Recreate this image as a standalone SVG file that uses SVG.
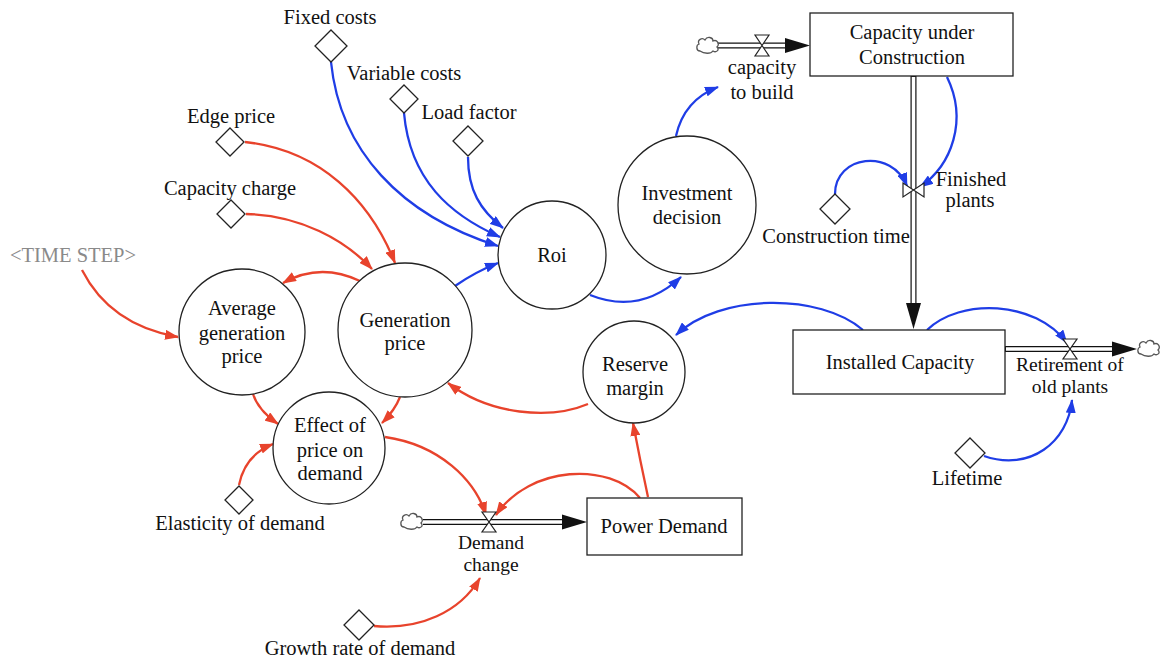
<svg xmlns="http://www.w3.org/2000/svg" width="1161" height="662" viewBox="0 0 1161 662" font-family="'Liberation Serif', Tinos, 'DejaVu Serif', serif">
<style>
text{font-family:'Liberation Serif',Tinos,'Times New Roman','DejaVu Serif',serif;font-size:20.5px;fill:#111;text-anchor:middle}
.gray{fill:#8a8a8a}
.tight{font-size:19.5px}
.node{fill:#fff;stroke:#222;stroke-width:1.3}
.dia{fill:#fff;stroke:#222;stroke-width:1.3}
.red{fill:none;stroke:#e8432c;stroke-width:2.3}
.blue{fill:none;stroke:#1f3de6;stroke-width:2.3}
.pipeO{fill:none;stroke:#111;stroke-width:6}
.pipeI{fill:none;stroke:#fff;stroke-width:3.6}
.valve{fill:#fff;stroke:#222;stroke-width:1.2}
.cloud{fill:#fff;stroke:#555;stroke-width:1.3}
</style>
<defs>
<marker id="ar" viewBox="0 0 14 10" refX="13" refY="5" markerWidth="14" markerHeight="10" markerUnits="userSpaceOnUse" orient="auto"><path d="M0,0 L14,5 L0,10 Z" fill="#e8432c"/></marker>
<marker id="ab" viewBox="0 0 14 10" refX="13" refY="5" markerWidth="14" markerHeight="10" markerUnits="userSpaceOnUse" orient="auto"><path d="M0,0 L14,5 L0,10 Z" fill="#1f3de6"/></marker>
<path id="cl" d="M-8,6 C-12,6 -12,0 -9,-1 C-11,-5 -6,-8 -3,-5 C-1,-9 5,-8 5,-4 C9,-6 12,-1 9,2 C12,5 8,8 5,6 C3,9 -4,9 -8,6 Z"/>
</defs>

<g id="connectors">
<g id="flow-capacity-to-build">
<line class="pipeO" x1="718" y1="45.5" x2="788" y2="45.5"/><line class="pipeI" x1="716" y1="45.5" x2="790" y2="45.5"/>
<path d="M785,38 L810,45.5 L785,53 Z" fill="#111"/>
</g>
<g id="flow-finished-plants">
<line class="pipeO" x1="913.5" y1="76" x2="913.5" y2="305"/><line class="pipeI" x1="913.5" y1="77" x2="913.5" y2="305"/>
<path d="M906,303 L913.5,329 L921,303 Z" fill="#111"/>
</g>
<g id="flow-retirement">
<line class="pipeO" x1="1005" y1="349" x2="1114" y2="349"/><line class="pipeI" x1="1006" y1="349" x2="1114" y2="349"/>
<path d="M1112,341.5 L1137,349 L1112,356.5 Z" fill="#111"/>
</g>
<g id="flow-demand-change">
<line class="pipeO" x1="423" y1="522" x2="564" y2="522"/><line class="pipeI" x1="421" y1="522" x2="564" y2="522"/>
<path d="M562,514.5 L587,522 L562,529.5 Z" fill="#111"/>
</g>
<path class="blue" marker-end="url(#ab)" d="M331,62 C340,150 400,215 498,246"/>
<path class="blue" marker-end="url(#ab)" d="M404,113 C410,180 450,215 500,237"/>
<path class="blue" marker-end="url(#ab)" d="M468,157 C468,190 480,210 503,228"/>
<path class="blue" marker-end="url(#ab)" d="M455,286 Q475,272 498,263"/>
<path class="blue" marker-end="url(#ab)" d="M590,295 Q640,315 681,277"/>
<path class="blue" marker-end="url(#ab)" d="M676,136 Q684,100 718,87"/>
<path class="blue" marker-end="url(#ab)" d="M835,194 C835,155 892,148 907,186"/>
<path class="blue" marker-end="url(#ab)" d="M947,77 C968,120 952,165 920,187"/>
<path class="blue" marker-end="url(#ab)" d="M863,330 C820,293 720,293 676,335"/>
<path class="blue" marker-end="url(#ab)" d="M927,330 C960,298 1035,300 1067,343"/>
<path class="blue" marker-end="url(#ab)" d="M984,456 C1030,472 1068,442 1072,400"/>
<path class="red" marker-end="url(#ar)" d="M82,270 Q110,325 178,337"/>
<path class="red" marker-end="url(#ar)" d="M360,281 Q320,262 283,283"/>
<path class="red" marker-end="url(#ar)" d="M245,142 C320,150 370,200 395,263"/>
<path class="red" marker-end="url(#ar)" d="M246,214 C300,215 345,240 372,269"/>
<path class="red" marker-end="url(#ar)" d="M253,394 Q258,410 278,424"/>
<path class="red" marker-end="url(#ar)" d="M400,397 Q395,410 382,423"/>
<path class="red" marker-end="url(#ar)" d="M239,485 Q245,455 273,444"/>
<path class="red" marker-end="url(#ar)" d="M588,404 C550,420 490,415 448,383"/>
<path class="red" marker-end="url(#ar)" d="M385,437 C440,445 475,480 486,515"/>
<path class="red" marker-end="url(#ar)" d="M640,498 C610,462 530,465 496,515"/>
<path class="red" marker-end="url(#ar)" d="M648,497 Q640,460 633,423"/>
<path class="red" marker-end="url(#ar)" d="M374,626 C420,630 460,612 480,578"/>
</g>

<g id="capacity-under-construction"><rect class="node" x="810" y="13" width="203" height="63"/><text x="912" y="39">Capacity under</text><text x="912" y="64">Construction</text></g>
<g id="installed-capacity"><rect class="node" x="793" y="330" width="212" height="64"/><text x="900" y="369">Installed Capacity</text></g>
<g id="power-demand"><rect class="node" x="587" y="498" width="155" height="57"/><text x="664" y="533">Power Demand</text></g>

<g id="capacity-to-build"><use href="#cl" class="cloud" transform="translate(708,45)"/><path class="valve" d="M755,35 L769,35 L762,45.5 Z M755,56 L769,56 L762,45.5 Z"/><text x="762" y="74">capacity</text><text x="762" y="99">to build</text></g>
<g id="finished-plants"><path class="valve" d="M903,183 L903,197 L913.5,190 Z M924,183 L924,197 L913.5,190 Z"/><text x="971" y="186">Finished</text><text x="970" y="207">plants</text></g>
<g id="retirement-of-old-plants"><use href="#cl" class="cloud" transform="translate(1149,348)"/><path class="valve" d="M1063,339 L1077,339 L1070,349 Z M1063,359 L1077,359 L1070,349 Z"/><text class="tight" x="1070" y="371">Retirement of</text><text class="tight" x="1070" y="393">old plants</text></g>
<g id="demand-change"><use href="#cl" class="cloud" transform="translate(412,521)"/><path class="valve" d="M482,512 L496,512 L489,522 Z M482,532 L496,532 L489,522 Z"/><text class="tight" x="491" y="549">Demand</text><text class="tight" x="491" y="571">change</text></g>

<g id="investment-decision"><circle class="node" cx="687" cy="205" r="69"/><text x="687" y="200">Investment</text><text x="687" y="224">decision</text></g>
<g id="roi"><circle class="node" cx="552" cy="255" r="54"/><text x="552" y="262">Roi</text></g>
<g id="generation-price"><circle class="node" cx="405" cy="330" r="67"/><text x="405" y="327">Generation</text><text x="405" y="350">price</text></g>
<g id="average-generation-price"><circle class="node" cx="242" cy="332" r="63"/><text x="242" y="315">Average</text><text x="242" y="340">generation</text><text x="242" y="363">price</text></g>
<g id="effect-of-price-on-demand"><circle class="node" cx="329" cy="448" r="56"/><text x="330" y="432">Effect of</text><text x="330" y="457">price on</text><text x="330" y="480">demand</text></g>
<g id="reserve-margin"><circle class="node" cx="634" cy="372" r="51"/><text x="635" y="371">Reserve</text><text x="635" y="395">margin</text></g>

<g id="time-step"><text class="gray" x="73" y="262">&lt;TIME STEP&gt;</text></g>
<g id="fixed-costs"><path class="dia" d="M331,30 L347,46 L331,62 L315,46 Z"/><text x="330" y="24">Fixed costs</text></g>
<g id="variable-costs"><path class="dia" d="M404,85 L418,99 L404,113 L390,99 Z"/><text x="404" y="80">Variable costs</text></g>
<g id="load-factor"><path class="dia" d="M468,126 L483,141 L468,156 L453,141 Z"/><text x="469" y="119">Load factor</text></g>
<g id="edge-price"><path class="dia" d="M230,128 L244,142 L230,156 L216,142 Z"/><text x="231" y="123">Edge price</text></g>
<g id="capacity-charge"><path class="dia" d="M231,200 L245,214 L231,228 L217,214 Z"/><text x="230" y="195">Capacity charge</text></g>
<g id="construction-time"><path class="dia" d="M835,194 L850,209 L835,224 L820,209 Z"/><text x="836" y="243">Construction time</text></g>
<g id="lifetime"><path class="dia" d="M970,438 L985,453 L970,468 L955,453 Z"/><text x="967" y="485">Lifetime</text></g>
<g id="elasticity-of-demand"><path class="dia" d="M239,486 L253,500 L239,514 L225,500 Z"/><text x="240" y="530">Elasticity of demand</text></g>
<g id="growth-rate-of-demand"><path class="dia" d="M359,610 L374,625 L359,640 L344,625 Z"/><text x="360" y="655">Growth rate of demand</text></g>
</svg>
